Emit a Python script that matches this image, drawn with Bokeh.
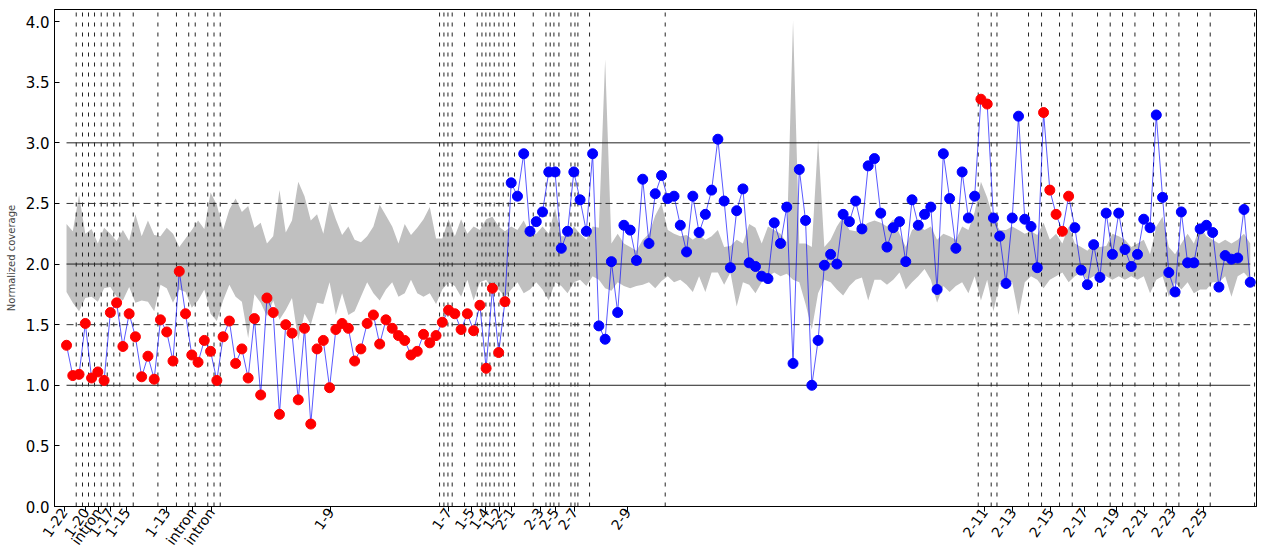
from bokeh.plotting import figure
from bokeh.models import (Range1d, FixedTicker, PrintfTickFormatter,
                          CustomJSTickFormatter, ColumnDataSource)
from bokeh.embed import file_html
from bokeh.resources import INLINE

# Normalized coverage per target (in order along the gene)
coverage = [
    1.33, 1.08, 1.09, 1.51, 1.06, 1.11, 1.04, 1.60, 1.68, 1.32,
    1.59, 1.40, 1.07, 1.24, 1.05, 1.54, 1.44, 1.20, 1.94, 1.59,
    1.25, 1.19, 1.37, 1.28, 1.04, 1.40, 1.53, 1.18, 1.30, 1.06,
    1.55, 0.92, 1.72, 1.60, 0.76, 1.50, 1.43, 0.88, 1.47, 0.68,
    1.30, 1.37, 0.98, 1.46, 1.51, 1.47, 1.20, 1.30, 1.51, 1.58,
    1.34, 1.54, 1.47, 1.41, 1.37, 1.25, 1.28, 1.42, 1.35, 1.41,
    1.52, 1.62, 1.59, 1.46, 1.59, 1.45, 1.66, 1.14, 1.80, 1.27,
    1.69, 2.67, 2.56, 2.91, 2.27, 2.35, 2.43, 2.76, 2.76, 2.13,
    2.27, 2.76, 2.53, 2.27, 2.91, 1.49, 1.38, 2.02, 1.60, 2.32,
    2.28, 2.03, 2.70, 2.17, 2.58, 2.73, 2.54, 2.56, 2.32, 2.10,
    2.56, 2.26, 2.41, 2.61, 3.03, 2.52, 1.97, 2.44, 2.62, 2.01,
    1.98, 1.90, 1.88, 2.34, 2.17, 2.47, 1.18, 2.78, 2.36, 1.00,
    1.37, 1.99, 2.08, 2.00, 2.41, 2.35, 2.52, 2.29, 2.81, 2.87,
    2.42, 2.14, 2.30, 2.35, 2.02, 2.53, 2.32, 2.41, 2.47, 1.79,
    2.91, 2.54, 2.13, 2.76, 2.38, 2.56, 3.36, 3.32, 2.38, 2.23,
    1.84, 2.38, 3.22, 2.37, 2.31, 1.97, 3.25, 2.61, 2.41, 2.27,
    2.56, 2.30, 1.95, 1.83, 2.16, 1.89, 2.42, 2.08, 2.42, 2.12,
    1.98, 2.08, 2.37, 2.30, 3.23, 2.55, 1.93, 1.77, 2.43, 2.01,
    2.01, 2.29, 2.32, 2.26, 1.81, 2.07, 2.04, 2.05, 2.45, 1.85,
]

# Reference range (upper / lower envelope) per target
band_upper = [
    2.33, 2.27, 2.57, 2.25, 2.29, 2.17, 2.30, 2.25, 2.19, 2.28,
    2.19, 2.41, 2.23, 2.36, 2.24, 2.23, 2.30, 2.25, 2.14, 2.21,
    2.28, 2.36, 2.29, 2.59, 2.49, 2.28, 2.45, 2.54, 2.43, 2.48,
    2.30, 2.34, 2.17, 2.23, 2.61, 2.26, 2.36, 2.68, 2.56, 2.36,
    2.41, 2.25, 2.52, 2.37, 2.24, 2.31, 2.20, 2.18, 2.23, 2.31,
    2.49, 2.40, 2.31, 2.17, 2.33, 2.24, 2.30, 2.37, 2.47, 2.21,
    2.21, 2.37, 2.23, 2.37, 2.25, 2.31, 2.28, 2.37, 2.39, 2.31,
    2.27, 2.31, 2.28, 2.36, 2.25, 2.25, 2.31, 2.25, 2.46, 2.23,
    2.23, 2.31, 2.25, 2.20, 2.31, 2.30, 3.69, 2.17, 2.25, 2.17,
    2.14, 2.11, 2.20, 2.25, 2.40, 2.50, 2.28, 2.25, 2.23, 2.24,
    2.20, 2.24, 2.20, 2.23, 2.28, 2.14, 2.15, 2.20, 2.17, 2.33,
    2.30, 2.17, 2.31, 2.28, 2.25, 2.18, 4.01, 2.17, 2.17, 2.14,
    3.03, 2.14, 2.20, 2.31, 2.39, 2.28, 2.27, 2.31, 2.34, 2.36,
    2.34, 2.31, 2.37, 2.25, 2.14, 2.28, 2.31, 2.28, 2.31, 2.20,
    2.25, 2.23, 2.20, 2.31, 2.28, 2.43, 2.68, 2.55, 2.37, 2.28,
    2.28, 2.31, 2.28, 2.25, 2.27, 2.24, 2.34, 2.20, 2.25, 2.17,
    2.31, 2.17, 2.14, 2.11, 2.17, 2.14, 2.15, 2.25, 2.23, 2.20,
    2.14, 2.17, 2.20, 2.08, 2.31, 2.39, 2.14, 2.08, 2.17, 2.25,
    2.17, 2.31, 2.23, 2.20, 2.17, 2.20, 2.17, 2.20, 2.25, 2.17,
]
band_lower = [
    1.77, 1.68, 1.61, 1.72, 1.73, 1.69, 1.80, 1.81, 1.73, 1.70,
    1.81, 1.68, 1.70, 1.69, 1.61, 1.83, 1.80, 1.68, 1.79, 1.77,
    1.64, 1.70, 1.79, 1.59, 1.53, 1.70, 1.83, 1.73, 1.69, 1.39,
    1.75, 1.68, 1.57, 1.70, 1.54, 1.62, 1.72, 1.37, 1.59, 1.50,
    1.68, 1.67, 1.85, 1.58, 1.76, 1.58, 1.61, 1.73, 1.85, 1.76,
    1.70, 1.79, 1.85, 1.73, 1.76, 1.87, 1.76, 1.73, 1.76, 1.67,
    1.79, 1.85, 1.82, 1.73, 1.87, 1.70, 1.85, 1.87, 1.79, 1.79,
    1.73, 1.79, 1.85, 1.76, 1.79, 1.85, 1.79, 1.70, 1.85, 1.82,
    1.76, 1.85, 1.87, 1.82, 1.90, 1.87, 1.80, 1.78, 1.85, 1.82,
    1.80, 1.82, 1.83, 1.85, 1.80, 1.86, 1.90, 1.85, 1.87, 1.83,
    1.77, 1.90, 1.77, 1.93, 1.93, 1.83, 1.93, 1.65, 1.85, 1.83,
    1.76, 1.85, 1.90, 1.93, 1.90, 1.92, 1.87, 1.85, 1.67, 1.46,
    1.76, 1.87, 1.85, 1.79, 1.74, 1.82, 1.87, 1.89, 1.70, 1.87,
    1.87, 1.83, 1.87, 1.93, 1.79, 1.85, 1.90, 1.96, 1.87, 1.68,
    1.82, 1.77, 1.82, 1.85, 1.76, 1.90, 1.70, 1.87, 1.61, 1.85,
    1.87, 1.85, 1.58, 1.85, 1.90, 1.87, 1.80, 1.87, 1.90, 1.93,
    1.85, 1.90, 1.93, 1.87, 1.90, 1.93, 1.90, 1.87, 1.90, 1.87,
    1.90, 1.87, 1.90, 1.76, 1.87, 1.90, 1.73, 1.85, 1.79, 1.85,
    1.76, 1.79, 1.79, 1.85, 1.85, 1.90, 1.73, 1.90, 1.93, 1.87,
]

# Targets called as copy-number changed
flagged = list(range(0, 71)) + [146, 147, 156, 157, 158, 159, 160]

# Exon boundaries (target-index units)
exon_bounds = [
    1.55, 2.55, 3.51, 4.47, 5.54, 6.50, 7.55, 8.50, 10.65, 14.59,
    17.55, 19.51, 20.55, 22.55, 23.55, 24.54,
    59.56, 60.26, 60.90, 61.58, 63.55, 65.58, 66.33, 66.96, 67.60, 68.29,
    69.04, 69.73, 70.53, 71.53, 74.52, 76.55, 77.23, 77.82, 78.62, 80.54,
    81.18, 81.65, 83.51, 95.59,
    145.57, 147.64, 148.56, 153.60, 155.68, 158.55, 160.58, 164.62, 166.64,
    168.61, 170.59, 173.56, 175.59, 177.61, 180.58, 182.61, 189.69,
]

# Exon label positions and names
tick_pos = [-0.37, 3.10, 5.06, 7.03, 9.64, 16.03, 20.18, 23.15, 42.18,
            60.99, 64.62, 66.96, 69.09, 71.05, 75.63, 78.08, 81.11, 89.57,
            146.57, 151.11, 157.11, 162.54, 167.60, 172.07, 176.59, 181.60]
tick_labels = ["1-22", "1-20", "intron", "1-17", "1-15", "1-13", "intron",
               "intron", "1-9", "1-7", "1-5", "1-4", "1-2", "2-1", "2-3",
               "2-5", "2-7", "2-9", "2-11", "2-13", "2-15", "2-17", "2-19",
               "2-21", "2-23", "2-25"]

y_ticks = [0.0, 0.5, 1.0, 1.5, 2.0, 2.5, 3.0, 3.5, 4.0]
solid_levels = [1.0, 2.0, 3.0]
dashed_levels = [1.5, 2.5]
x_lim = (-1.92, 190.0)
y_lim = (0.0, 4.1)

idx = list(range(len(coverage)))
flag_set = set(flagged)
colors = ["#ff0000" if i in flag_set else "#0000ff" for i in idx]

p = figure(width=1265, height=555, output_backend="svg", toolbar_location=None,
           x_range=Range1d(*x_lim), y_range=Range1d(*y_lim),
           min_border_left=54, min_border_right=9, min_border_top=9,
           min_border_bottom=49, background_fill_color="white")
p.xgrid.visible = False
p.ygrid.visible = False
p.outline_line_color = "black"
p.outline_line_width = 1

# Reference envelope
p.varea(x=idx, y1=band_lower, y2=band_upper, fill_color="#c0c0c0")

# Copy-number guide lines
x0, x1 = idx[0], idx[-1]
p.segment(x0=[x0] * len(solid_levels), y0=solid_levels,
          x1=[x1] * len(solid_levels), y1=solid_levels,
          line_color="#222222", line_width=1)
p.segment(x0=[x0] * len(dashed_levels), y0=dashed_levels,
          x1=[x1] * len(dashed_levels), y1=dashed_levels,
          line_color="#333333", line_width=1, line_dash="7 4")

# Exon boundaries
p.segment(x0=exon_bounds, y0=[y_lim[0]] * len(exon_bounds),
          x1=exon_bounds, y1=[y_lim[1]] * len(exon_bounds),
          line_color="#222222", line_width=1, line_dash="4 6")

src = ColumnDataSource(dict(x=idx, y=coverage, c=colors))
p.line("x", "y", source=src, line_color="#0000ff", line_alpha=0.65, line_width=1)
p.scatter("x", "y", source=src, size=10, fill_color="c", line_color="c")

# Axes
p.yaxis.ticker = FixedTicker(ticks=y_ticks)
p.yaxis.formatter = PrintfTickFormatter(format="%.1f")
p.yaxis.minor_tick_line_color = None
p.yaxis.major_tick_in = 5
p.yaxis.major_tick_out = 0
p.yaxis.major_label_text_font_size = "15px"
p.yaxis.axis_label = "Normalized coverage"
p.yaxis.axis_label_text_font = "DejaVu Sans"
p.yaxis.axis_label_text_font_style = "normal"
p.yaxis.axis_label_text_font_size = "10px"
p.yaxis.axis_label_standoff = 6

p.xaxis.ticker = FixedTicker(ticks=tick_pos)
p.xaxis.formatter = CustomJSTickFormatter(
    args=dict(pos=tick_pos, labels=tick_labels),
    code="""
    let best = 0, d = Infinity;
    for (let k = 0; k < pos.length; k++) {
        const e = Math.abs(pos[k] - tick);
        if (e < d) { d = e; best = k; }
    }
    return labels[best];
""")
p.xaxis.minor_tick_line_color = None
p.xaxis.major_tick_in = 0
p.xaxis.major_tick_out = 5
p.xaxis.major_label_orientation = 0.96
p.xaxis.major_label_standoff = -2
p.xaxis.major_label_text_font_size = "14px"

for ax in (p.xaxis, p.yaxis):
    ax.major_label_text_font = "DejaVu Sans"
    ax.major_label_text_color = "black"
    ax.axis_line_color = "black"
    ax.major_tick_line_color = "black"

open("out.html", "w").write(file_html(p, INLINE))
